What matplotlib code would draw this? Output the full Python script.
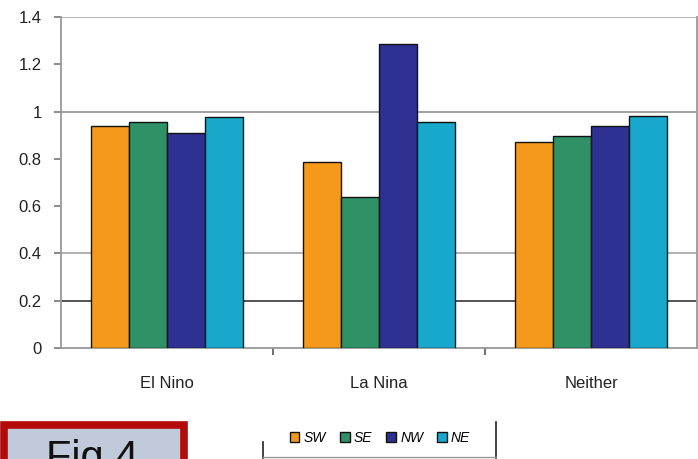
import matplotlib.pyplot as plt
import matplotlib.patches as patches
from matplotlib.lines import Line2D
import numpy as np

plt.rcParams['font.family'] = ['Liberation Sans', 'DejaVu Sans']

# Datos: razón por fase ENSO y región
categorias = ['El Nino', 'La Nina', 'Neither']
regiones = ['SW', 'SE', 'NW', 'NE']
sw = [0.94, 0.785, 0.87]
se = [0.955, 0.64, 0.895]
nw = [0.91, 1.285, 0.937]
ne = [0.975, 0.955, 0.98]
colores = ['#F4991A', '#2E9266', '#2E3192', '#17A8CB']

W, H = 698, 459
fig = plt.figure(figsize=(W / 100, H / 100), dpi=100)
ax = fig.add_axes([61 / W, (H - 348) / H, 636 / W, 331 / H])

x = np.arange(len(categorias))
ancho = 0.179
for i, (serie, color) in enumerate(zip([sw, se, nw, ne], colores)):
    ax.bar(x + (i - 1.5) * ancho, serie, width=ancho, color=color,
           edgecolor='#111111', linewidth=1.0, label=regiones[i], zorder=3)

# Líneas de cuadrícula
for yv, c in [(1.4, '#aaaaaa'), (1.0, '#999999'), (0.4, '#aaaaaa'), (0.2, '#444444')]:
    ax.axhline(yv, color=c, linewidth=1.3, zorder=1)

ax.set_xlim(-0.5, 2.5)
ax.set_ylim(0, 1.4)
ax.set_yticks(np.arange(0, 1.41, 0.2))
ax.set_yticklabels(['0', '0.2', '0.4', '0.6', '0.8', '1', '1.2', '1.4'])
ax.set_xticks(x)
ax.set_xticklabels(categorias)
ax.set_xticks([0.5, 1.5], minor=True)
ax.tick_params(axis='x', which='major', length=0, pad=20, labelsize=12, labelcolor='#222222')
ax.tick_params(axis='x', which='minor', length=5, color='#555555', width=1.2)
ax.tick_params(axis='y', length=5, pad=9, labelsize=12, labelcolor='#222222',
               color='#777777', width=1.2)
for s in ax.spines.values():
    s.set_color('#999999')
    s.set_linewidth(1.3)
ax.spines['top'].set_visible(False)

# Leyenda
fig.legend(loc='center', bbox_to_anchor=(380 / W, 1 - 438 / H), ncol=4,
           frameon=False, handlelength=0.7, handleheight=0.7, handletextpad=0.3,
           columnspacing=1.0, prop={'style': 'italic', 'size': 10})
fig.add_artist(Line2D([263 / W, 263 / W], [0, (H - 442) / H], color='#222222', lw=1.2))
fig.add_artist(Line2D([496 / W, 496 / W], [0, (H - 422) / H], color='#222222', lw=1.2))
fig.add_artist(Line2D([263 / W, 496 / W], [(H - 457) / H] * 2, color='#999999', lw=1.0))

# Recuadro "Fig 4"
caja = patches.Rectangle((3.5 / W, -0.1), 180.5 / W, (H - 424.5) / H + 0.1,
                         transform=fig.transFigure, facecolor='#C0CADA',
                         edgecolor='#B30A0A', linewidth=5.5, clip_on=False)
fig.add_artist(caja)
fig.text(92 / W, (H - 470) / H, 'Fig 4', ha='center', va='baseline',
         fontsize=30, color='#111111')

plt.savefig('out.png', dpi=100)
